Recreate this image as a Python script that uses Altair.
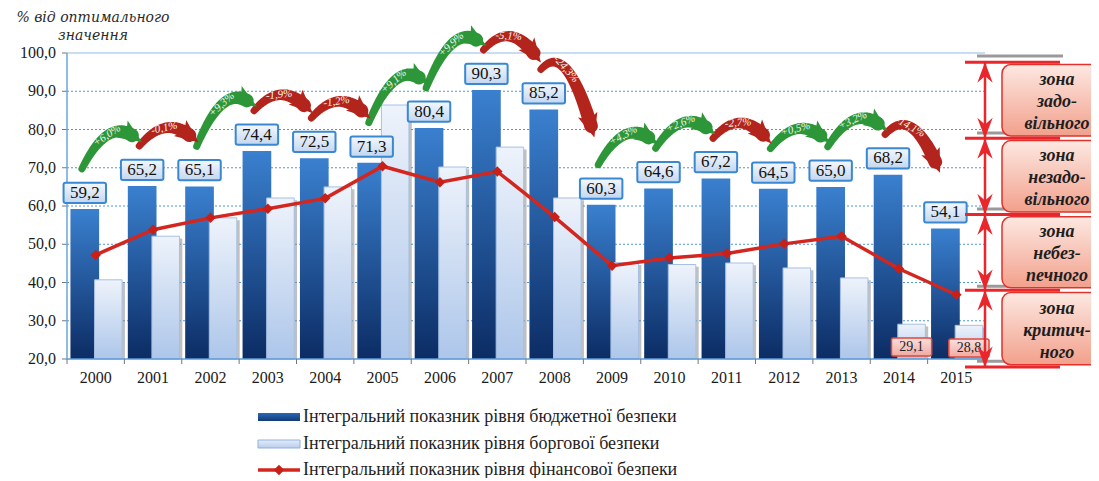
import math
import altair as alt
import pandas as pd

# ---------------- data ----------------
years = list(range(2000, 2016))
budget = [59.2, 65.2, 65.1, 74.4, 72.5, 71.3, 80.4, 90.3, 85.2, 60.3, 64.6, 67.2, 64.5, 65.0, 68.2, 54.1]
debt = [40.7, 52.1, 56.9, 62.1, 65.0, 86.4, 70.2, 75.4, 62.1, 45.2, 44.7, 45.1, 43.8, 41.2, 29.1, 28.8]
financial = [47.2, 53.8, 56.9, 59.3, 62.0, 70.4, 66.2, 69.0, 57.1, 44.4, 46.4, 47.6, 50.1, 52.1, 43.6, 36.8]
changes = ["+6,0%", "-0,1%", "+9,3%", "-1,9%", "-1,2%", "+9,1%", "+9,9%", "-5,1%",
           "-24,3%", "+4,3%", "+2,6%", "-2,7%", "+0,5%", "+3,2%", "-14,1%"]
series_names = ["Інтегральний показник рівня бюджетної безпеки",
                "Інтегральний показник рівня боргової безпеки",
                "Інтегральний показник рівня фінансової безпеки"]
zone_names = ["зона\nзадо-\nвільного", "зона\nнезадо-\nвільного",
              "зона\nнебез-\nпечного", "зона\nкритич-\nного"]
zone_bounds = [97.6, 77.7, 57.8, 38.0, 17.9]
gray_marks = [99.2, 79.1, 59.2, 39.0, 19.4]
y_ticks = [20, 30, 40, 50, 60, 70, 80, 90, 100]
y_title = ["% від оптимального", "значення"]

# ---------------- geometry helpers ----------------
W, H = 918, 306
PX_X = W / 16.0
PX_Y = H / 80.0
SERIF = "'Liberation Serif', 'Times New Roman', Times, serif"
ITAL = "'DejaVu Serif', 'Liberation Serif', serif"

df = pd.DataFrame({"idx": list(range(len(years))), "year": years,
                   "budget": budget, "debt": debt, "fin": financial})

xs = alt.Scale(domain=[-0.5, 15.5], nice=False, zero=False)
ys = alt.Scale(domain=[20, 100], nice=False, zero=False)


def X(f):
    return alt.X(f, scale=xs, axis=None)


def Y(f):
    return alt.Y(f, scale=ys, axis=None)


def grad(c_top, c_bot):
    return alt.Gradient(gradient="linear",
                        stops=[alt.GradientStop(color=c_top, offset=0),
                               alt.GradientStop(color=c_bot, offset=1)],
                        x1=0, x2=0, y1=0, y2=1)


blue_grad = grad("#3a80cf", "#0c2c64")
light_grad = grad("#eef3fb", "#adc6ea")
label_grad = grad("#f4f8fd", "#c3d7f0")
pink_grad = grad("#fbe0dc", "#f2a9a1")
zone_grad = grad("#fde8e2", "#f2a08b")

base = alt.Chart(df)

# ---------------- hand-made axes ----------------
yt_df = pd.DataFrame({"v": y_ticks})
yt_df["lab"] = [f"{v:.1f}".replace(".", ",") for v in y_ticks]
grid_dotted = alt.Chart(yt_df).transform_filter("datum.v > 20 && datum.v < 100").mark_rule(
    color="#4a98d6", strokeWidth=1, strokeDash=[2, 2]).encode(
    x=alt.value(0), x2=alt.value(W), y=Y("v:Q"))
grid_top = alt.Chart(yt_df).transform_filter("datum.v == 100").mark_rule(
    color="#8dbbe6", strokeWidth=1.2).encode(x=alt.value(0), x2=alt.value(W), y=Y("v:Q"))
y_ticks_marks = alt.Chart(yt_df).mark_rule(color="#777777", strokeWidth=1).encode(
    x=alt.value(-5), x2=alt.value(0), y=Y("v:Q"))
y_labels = alt.Chart(yt_df).mark_text(font=SERIF, fontSize=16, color="#1a1a1a", align="right",
                                      baseline="middle").encode(
    x=alt.value(-11), y=Y("v:Q"), text="lab:N")
y_domain = alt.Chart(pd.DataFrame({"a": [20], "b": [100]})).mark_rule(
    color="#6aa6dc", strokeWidth=1.5).encode(x=alt.value(0), y=Y("a:Q"), y2="b:Q")
x_domain = alt.Chart(pd.DataFrame({"a": [20]})).mark_rule(color="#5b9bd5", strokeWidth=1.5).encode(
    x=alt.value(0), x2=alt.value(W), y=Y("a:Q"))
x_labels = base.transform_calculate(ylab="'' + datum.year").mark_text(
    font=SERIF, fontSize=16, color="#1a1a1a", baseline="middle").encode(
    x=X("idx:Q"), y=alt.value(H + 19), text="ylab:N")
ticks_df = pd.DataFrame({"b": [i - 0.5 for i in range(len(years) + 1)], "a": 20})
boundary_ticks = alt.Chart(ticks_df).mark_rule(color="#777777", strokeWidth=1).encode(
    x=X("b:Q"), y=Y("a:Q"), y2=alt.value(H + 5))
title_df = pd.DataFrame({"t": y_title, "row": [0, 1]})
y_title_l0 = alt.Chart(title_df.iloc[[0]]).mark_text(
    font=ITAL, fontSize=14, fontStyle="italic", color="#2a2a2a", align="center",
    baseline="middle").encode(x=alt.value(26), y=alt.value(-35), text="t:N")
y_title_l1 = alt.Chart(title_df.iloc[[1]]).mark_text(
    font=ITAL, fontSize=14, fontStyle="italic", color="#2a2a2a", align="center",
    baseline="middle").encode(x=alt.value(26), y=alt.value(-17), text="t:N")

# ---------------- bars, line ----------------
blue_bars = base.transform_calculate(
    x0="datum.idx - 0.44", x1="datum.idx + 0.06", base="20"
).mark_rect(fill=blue_grad).encode(
    x=X("x0:Q"), x2="x1:Q", y=Y("budget:Q"), y2="base:Q")

light_shadow = base.transform_calculate(
    x0="datum.idx + 0.02", x1="datum.idx + 0.51", yt="datum.debt - 0.6", base="20"
).mark_rect(fill="#8c8c8c", opacity=0.55).encode(
    x=X("x0:Q"), x2="x1:Q", y=Y("yt:Q"), y2="base:Q")

light_bars = base.transform_calculate(
    x0="datum.idx - 0.02", x1="datum.idx + 0.46", base="20"
).mark_rect(fill=light_grad, stroke="#a6c0e4", strokeWidth=1).encode(
    x=X("x0:Q"), x2="x1:Q", y=Y("debt:Q"), y2="base:Q")

fin_line = base.mark_line(color="#d2261e", strokeWidth=3.5).encode(x=X("idx:Q"), y=Y("fin:Q"))
fin_pts = base.mark_point(shape="diamond", filled=True, size=110, color="#c81f18", opacity=1).encode(
    x=X("idx:Q"), y=Y("fin:Q"))

# value labels over budget bars
lab_base = base.transform_calculate(
    bx0="datum.idx - 0.19 - 0.37", bx1="datum.idx - 0.19 + 0.37",
    by0="datum.budget + 1.6", by1="datum.budget + 6.9",
    ty="datum.budget + 4.25", lx="datum.idx - 0.19",
    lab="replace(format(datum.budget, '.1f'), '.', ',')")
lab_box = lab_base.mark_rect(fill=label_grad, stroke="#3a87d2", strokeWidth=2, cornerRadius=2).encode(
    x=X("bx0:Q"), x2="bx1:Q", y=Y("by0:Q"), y2="by1:Q")
lab_txt = lab_base.mark_text(font=SERIF, fontSize=17, color="#111111", baseline="middle").encode(
    x=X("lx:Q"), y=Y("ty:Q"), text="lab:N")

# red labels for low debt values
red_base = base.transform_filter("datum.debt < 35").transform_calculate(
    bx0="datum.idx + 0.22 - 0.35", bx1="datum.idx + 0.22 + 0.35",
    by0="datum.debt - 8.3", by1="datum.debt - 3.6",
    ty="datum.debt - 5.9", lx="datum.idx + 0.22",
    lab="replace(format(datum.debt, '.1f'), '.', ',')")
red_box = red_base.mark_rect(fill=pink_grad, stroke="#dd4a3e", strokeWidth=1.5, cornerRadius=2).encode(
    x=X("bx0:Q"), x2="bx1:Q", y=Y("by0:Q"), y2="by1:Q")
red_txt = red_base.mark_text(font=SERIF, fontSize=14, color="#222222", baseline="middle").encode(
    x=X("lx:Q"), y=Y("ty:Q"), text="lab:N")

# ---------------- curved change arrows (derived from the data arrays) ----------------
trail_rows, head_rows, text_rows = [], [], []
T_END = 0.84
for i, ch in enumerate(changes):
    x0, y0 = i - 0.24, budget[i] + 10.5
    x2, y2 = i + 1 - 0.2, budget[i + 1] + 11.0
    cx, cy = (x0 + x2) / 2, max(y0, y2) + 9.0
    sign = "pos" if ch.startswith("+") else "neg"

    def bez(t):
        return ((1 - t) ** 2 * x0 + 2 * (1 - t) * t * cx + t * t * x2,
                (1 - t) ** 2 * y0 + 2 * (1 - t) * t * cy + t * t * y2)

    def tan(t):
        dx = 2 * (1 - t) * (cx - x0) + 2 * t * (x2 - cx)
        dy = 2 * (1 - t) * (cy - y0) + 2 * t * (y2 - cy)
        return dx * PX_X, -dy * PX_Y

    n = 28
    for k in range(n + 1):
        t = T_END * k / n
        bx, by = bez(t)
        trail_rows.append({"arrow": i, "k": k, "x": bx, "y": by, "w": 7 + 8 * t, "sign": sign})
    hx, hy = bez(T_END)
    dxp, dyp = tan(T_END)
    head_rows.append({"x": hx, "y": hy, "ang": math.degrees(math.atan2(dxp, -dyp)) % 360, "sign": sign})
    mx, my = bez(0.42)
    dxp, dyp = tan(0.42)
    text_rows.append({"x": mx, "y": my, "ang": math.degrees(math.atan2(dyp, dxp)) % 360,
                      "label": ch, "sign": sign})

trail_df = pd.DataFrame(trail_rows)
head_df = pd.DataFrame(head_rows)
text_df = pd.DataFrame(text_rows)
GREEN, RED = "#2c9638", "#b3241c"
arrow_color = alt.condition("datum.sign == 'pos'", alt.value(GREEN), alt.value(RED))

arrow_layers = []
for sg, col in (("pos", GREEN), ("neg", RED)):
    arrow_layers.append(
        alt.Chart(trail_df).transform_filter(f"datum.sign == '{sg}'").mark_trail(color=col).encode(
            x=X("x:Q"), y=Y("y:Q"),
            size=alt.Size("w:Q", scale=None, legend=None), detail="arrow:N", order="k:Q"))
heads = alt.Chart(head_df).mark_point(shape="M0,-1L0.85,1L0,0.55L-0.85,1Z", filled=True, size=560,
                                      opacity=1).encode(
    x=X("x:Q"), y=Y("y:Q"),
    angle=alt.Angle("ang:Q", scale=None), color=arrow_color)
arrow_text = alt.Chart(text_df).mark_text(font=SERIF, fontSize=11, fontStyle="italic",
                                          color="#f3f7ee", baseline="middle").encode(
    x=X("x:Q"), y=Y("y:Q"),
    angle=alt.Angle("ang:Q", scale=None), text="label:N")

# ---------------- zones on the right ----------------
zone_df = pd.DataFrame({"name": zone_names, "top": zone_bounds[:-1], "bot": zone_bounds[1:]})
zone_df["mid"] = (zone_df["top"] + zone_df["bot"]) / 2
zone_df["t2"] = zone_df["top"] - 0.6
zone_df["b2"] = zone_df["bot"] + 0.6
zone_boxes = alt.Chart(zone_df).mark_rect(fill=zone_grad, stroke="#e2322b", strokeWidth=1.5,
                                          cornerRadius=9).encode(
    x=alt.value(935), x2=alt.value(1034), y=Y("t2:Q"), y2="b2:Q")
zone_text = alt.Chart(zone_df).mark_text(font=SERIF, fontSize=18, fontStyle="italic", fontWeight="bold",
                                         color="#1e1e1e", lineBreak="\n", lineHeight=22,
                                         baseline="middle", align="center", dy=-20).encode(
    x=alt.value(990), y=Y("mid:Q"), text="name:N")

gray_df = pd.DataFrame({"g": gray_marks})
gray_lines = alt.Chart(gray_df).mark_rule(color="#9a9a9a", strokeWidth=3).encode(
    x=alt.value(910), x2=alt.value(996), y=Y("g:Q"))
bound_df = pd.DataFrame({"b": zone_bounds})
red_lines = alt.Chart(bound_df).mark_rule(color="#e8262b", strokeWidth=3).encode(
    x=alt.value(898), x2=alt.value(993), y=Y("b:Q"))
vline = alt.Chart(pd.DataFrame({"t": [zone_bounds[0]], "b": [zone_bounds[-1]]})).mark_rule(
    color="#e8262b", strokeWidth=2.5).encode(x=alt.value(W), y=Y("t:Q"), y2="b:Q")
vhead_rows = []
for top, bot in zip(zone_bounds[:-1], zone_bounds[1:]):
    vhead_rows.append({"y": top - 2.7, "ang": 0})
    vhead_rows.append({"y": bot + 2.7, "ang": 180})
vheads = alt.Chart(pd.DataFrame(vhead_rows)).mark_point(
    shape="M0,-1L0.75,1L0,0.35L-0.75,1Z", filled=True, size=420, color="#e8262b", opacity=1).encode(
    x=alt.value(W), y=Y("y:Q"), angle=alt.Angle("ang:Q", scale=None))

# ---------------- manual legend ----------------
leg_df = pd.DataFrame({"name": series_names})
leg_y = [364, 391, 417]
legend_layers = []
legend_layers.append(alt.Chart(leg_df.iloc[[0]]).mark_rect(fill=grad("#2a67b5", "#123a78")).encode(
    x=alt.value(191), x2=alt.value(233), y=alt.value(leg_y[0] - 4), y2=alt.value(leg_y[0] + 4)))
legend_layers.append(alt.Chart(leg_df.iloc[[1]]).mark_rect(fill=grad("#e3ecf9", "#b9cdeb"),
                                                           stroke="#8fb1de", strokeWidth=1).encode(
    x=alt.value(191), x2=alt.value(233), y=alt.value(leg_y[1] - 4), y2=alt.value(leg_y[1] + 4)))
legend_layers.append(alt.Chart(leg_df.iloc[[2]]).mark_rule(color="#d2261e", strokeWidth=3.5).encode(
    x=alt.value(191), x2=alt.value(233), y=alt.value(leg_y[2])))
legend_layers.append(alt.Chart(leg_df.iloc[[2]]).mark_point(shape="diamond", filled=True, size=110,
                                                            color="#c81f18", opacity=1).encode(
    x=alt.value(212), y=alt.value(leg_y[2])))
for j in range(3):
    legend_layers.append(alt.Chart(leg_df.iloc[[j]]).mark_text(
        font=SERIF, fontSize=18, color="#1e1e1e", align="left", baseline="middle").encode(
        x=alt.value(236), y=alt.value(leg_y[j]), text="name:N"))

chart = alt.layer(
    grid_dotted, grid_top, y_ticks_marks, y_labels, y_title_l0, y_title_l1,
    blue_bars, light_shadow, light_bars, y_domain, x_domain, boundary_ticks, x_labels,
    fin_line, fin_pts,
    lab_box, lab_txt, red_box, red_txt,
    *arrow_layers, heads, arrow_text,
    gray_lines, zone_boxes, zone_text, red_lines, vline, vheads,
    *legend_layers
).properties(
    width=W, height=H,
    autosize=alt.AutoSizeParams(type="none"),
    padding={"left": 59, "top": 45, "right": 106, "bottom": 119},
    background="white"
).configure_view(stroke=None)

chart.save("out.html", embed_options={"renderer": "svg", "actions": False})
